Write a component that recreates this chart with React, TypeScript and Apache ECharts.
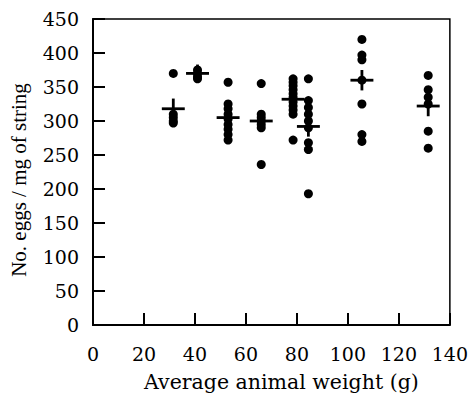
import React, { useEffect, useRef } from "react";
import * as echarts from "echarts";

const groupWeights = [31.5, 41, 53, 66, 78.5, 84.5, 105.5, 131.5];
const groupEggs: number[][] = [
  [370, 310, 305, 300, 297],
  [375, 370, 365, 362],
  [357, 325, 318, 310, 303, 295, 288, 280, 272],
  [355, 310, 305, 300, 295, 290, 236],
  [362, 357, 352, 346, 340, 335, 328, 322, 316, 310, 272],
  [362, 330, 320, 310, 300, 290, 268, 258, 193],
  [420, 397, 390, 360, 325, 280, 270],
  [367, 346, 335, 325, 285, 260],
];
const groupMeans = [318, 370, 305, 300, 332, 292, 360, 322];
const groupErrors = [15, 13, 12, 10, 10, 15, 15, 15];
const xTicks = [0, 20, 40, 60, 80, 100, 120, 140];
const yTicks = [0, 50, 100, 150, 200, 250, 300, 350, 400, 450];

const WIDE = "'DejaVu Serif', 'Liberation Serif', serif";
const NARROW = "'Liberation Serif', 'DejaVu Serif', serif";

export default function App() {
  const ref = useRef<HTMLDivElement>(null);
  useEffect(() => {
    if (!ref.current) return;
    const chart = echarts.init(ref.current, null, { renderer: "svg" });
    const points: number[][] = [];
    groupWeights.forEach((w, i) => groupEggs[i].forEach((v) => points.push([w, v])));
    const means = groupWeights.map((w, i) => [w, groupMeans[i], groupErrors[i]]);
    chart.setOption({
      animation: false,
      grid: {
        left: 93,
        right: 19,
        top: 19,
        bottom: 78,
        show: true,
        borderColor: "#000",
        borderWidth: 1.5,
      },
      xAxis: {
        type: "value",
        min: xTicks[0],
        max: xTicks[xTicks.length - 1],
        interval: 20,
        name: "Average animal weight (g)",
        nameLocation: "middle",
        nameGap: 46,
        nameTextStyle: {
          fontFamily: WIDE,
          fontSize: 20.5,
          color: "#000",
          padding: [0, 0, 0, 20],
        },
        axisLine: { lineStyle: { color: "#000", width: 2 } },
        axisTick: { inside: true, length: 12, lineStyle: { color: "#000", width: 2 } },
        axisLabel: { fontFamily: WIDE, fontSize: 19, color: "#000", margin: 19 },
        splitLine: { show: false },
      },
      yAxis: {
        type: "value",
        min: yTicks[0],
        max: yTicks[yTicks.length - 1],
        interval: 50,
        name: "No. eggs / mg of string",
        nameLocation: "middle",
        nameGap: 64,
        nameTextStyle: {
          fontFamily: NARROW,
          fontSize: 21,
          color: "#000",
          padding: [0, 16, 0, 0],
        },
        axisLine: { lineStyle: { color: "#000", width: 2 } },
        axisTick: { inside: true, length: 12, lineStyle: { color: "#000", width: 2 } },
        axisLabel: { fontFamily: WIDE, fontSize: 19, color: "#000", margin: 14 },
        splitLine: { show: false },
      },
      series: [
        {
          type: "scatter",
          data: points,
          symbol: "circle",
          symbolSize: 9,
          itemStyle: { color: "#000", opacity: 1 },
        },
        {
          type: "custom",
          data: means,
          z: 5,
          renderItem: (params: any, api: any) => {
            const x = api.value(0);
            const y = api.value(1);
            const e = api.value(2);
            const l = api.coord([x - 4.5, y]);
            const r = api.coord([x + 4.5, y]);
            const t = api.coord([x, y + e]);
            const b = api.coord([x, y - e]);
            const style = { stroke: "#000", lineWidth: 2.8 };
            return {
              type: "group",
              children: [
                { type: "line", shape: { x1: l[0], y1: l[1], x2: r[0], y2: r[1] }, style },
                { type: "line", shape: { x1: t[0], y1: t[1], x2: b[0], y2: b[1] }, style },
              ],
            };
          },
        },
      ],
    });
    return () => chart.dispose();
  }, []);
  return (
    <div
      ref={ref}
      style={{ position: "fixed", left: 0, top: 0, width: 471, height: 403, background: "#fff" }}
    />
  );
}
